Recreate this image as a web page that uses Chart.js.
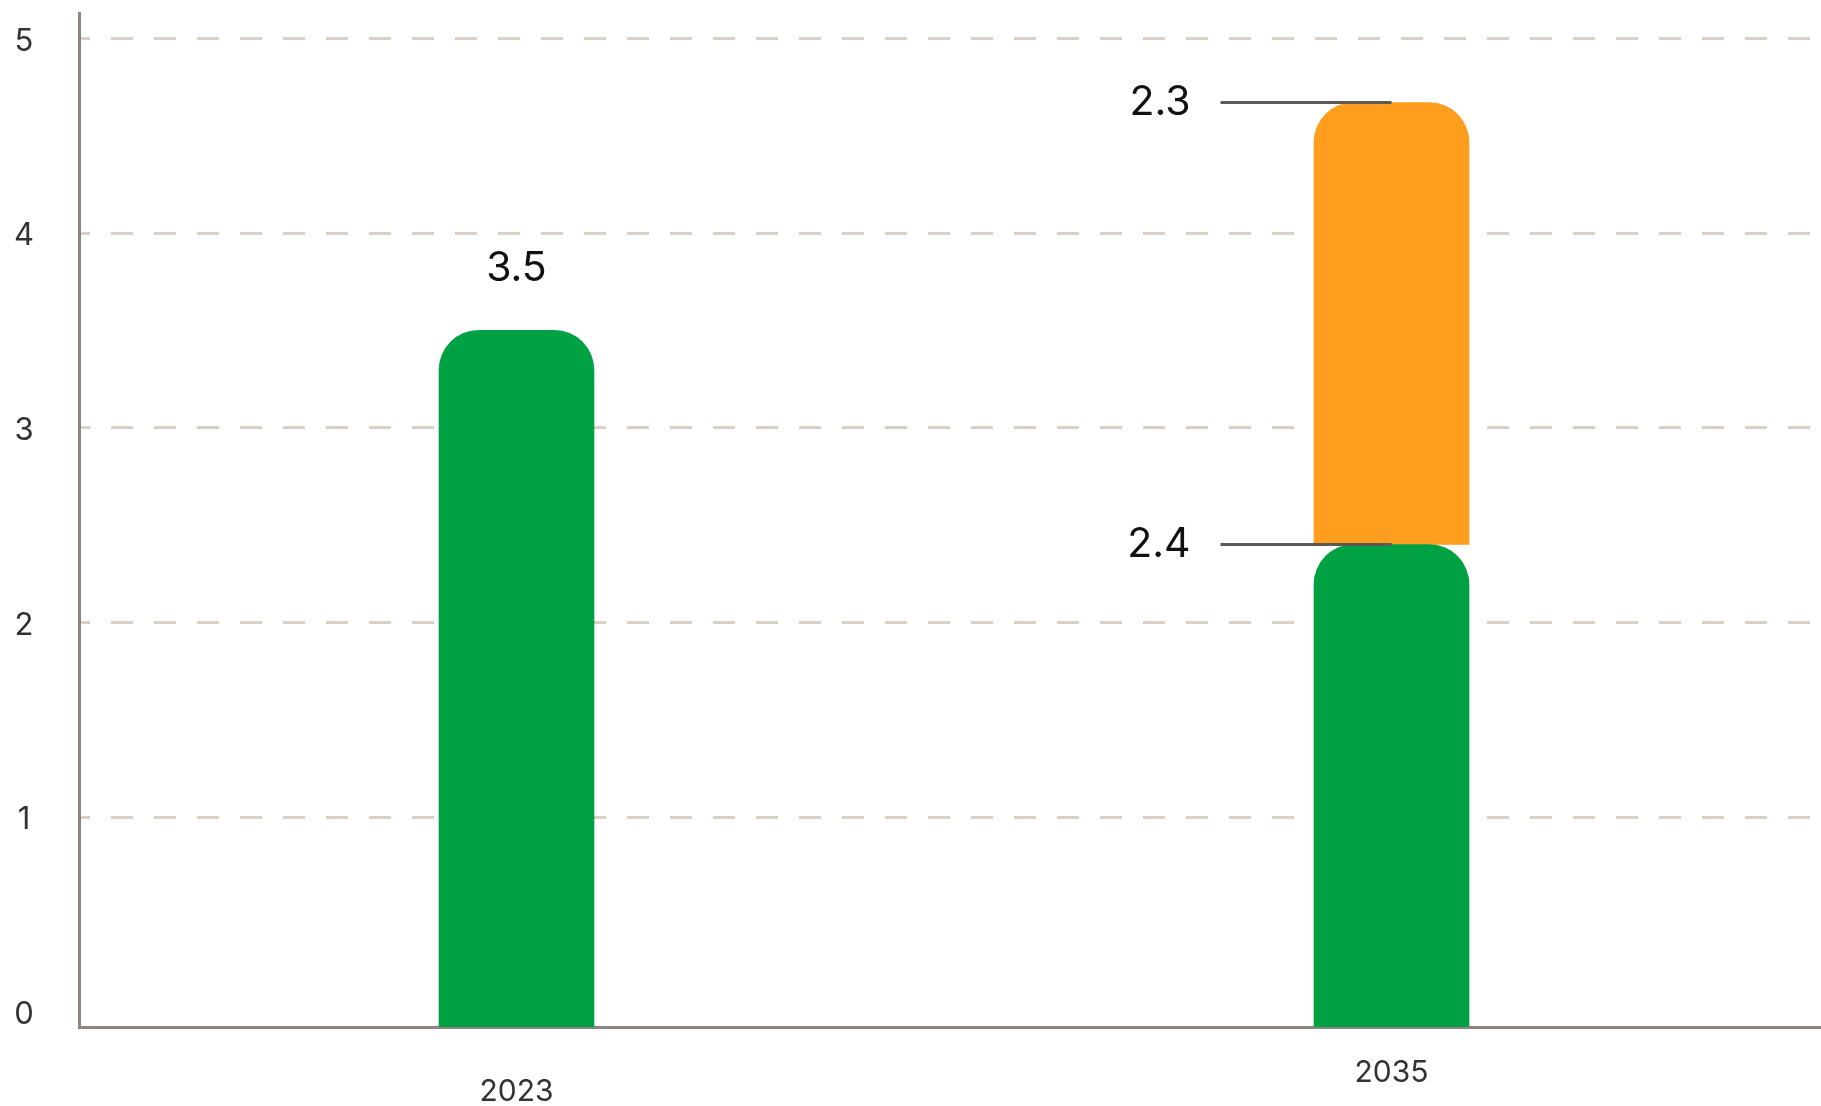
<!DOCTYPE html>
<html>
<head>
<meta charset="utf-8">
<script src="https://cdn.jsdelivr.net/npm/chart.js@4/dist/chart.umd.min.js"></script>
<style>
  html, body { margin: 0; padding: 0; background: #fff; overflow: hidden; }
  #wrap { width: 1829px; height: 1106px; }
</style>
</head>
<body>
<div id="wrap"><canvas id="myChart" width="1829" height="1106"></canvas></div>
<script>
const categories = ['2023', '2035'];
const greenValues = [3.5, 2.4];
const orangeValues = [null, 2.27];
const yTicks = [0, 1, 2, 3, 4, 5];

const FONT = 'Inter, "Noto Sans", sans-serif';

// value labels: above single bars, with leader lines for stacked ones
const valueLabels = {
    id: 'valueLabels',
    afterDatasetsDraw(chart) {
        const ctx = chart.ctx;
        ctx.save();
        ctx.font = '400 41px ' + FONT;
        ctx.fillStyle = '#111';
        ctx.textBaseline = 'middle';
        categories.forEach((cat, i) => {
            const parts = chart.data.datasets
                .map((ds, d) => ({ d: d, v: ds.data[i] }))
                .filter(p => p.v != null);
            if (parts.length === 1) {
                const bar = chart.getDatasetMeta(parts[0].d).data[i];
                ctx.textAlign = 'center';
                ctx.fillText(parts[0].v.toFixed(1), bar.x, bar.y - 62);
            } else {
                parts.forEach(p => {
                    const bar = chart.getDatasetMeta(p.d).data[i];
                    ctx.strokeStyle = '#5b5a55';
                    ctx.lineWidth = 3;
                    ctx.beginPath();
                    ctx.moveTo(bar.x - 171, bar.y);
                    ctx.lineTo(bar.x, bar.y);
                    ctx.stroke();
                    ctx.textAlign = 'right';
                    ctx.fillText(p.v.toFixed(1), bar.x - 201, bar.y);
                });
            }
        });
        ctx.restore();
    }
};

const radius = { topLeft: 40, topRight: 40, bottomLeft: 0, bottomRight: 0 };

new Chart(document.getElementById('myChart'), {
    type: 'bar',
    data: {
        labels: categories,
        datasets: [
            {
                data: greenValues,
                backgroundColor: '#00a142',
                borderRadius: radius,
                borderSkipped: false,
                base: -0.078,
                barThickness: 155
            },
            {
                data: orangeValues,
                backgroundColor: '#ff9d1e',
                borderRadius: radius,
                borderSkipped: false,
                barThickness: 155
            }
        ]
    },
    options: {
        responsive: false,
        animation: false,
        layout: { padding: { top: 13, left: 0, right: 0, bottom: 0 } },
        plugins: {
            legend: { display: false },
            tooltip: { enabled: false }
        },
        scales: {
            x: {
                stacked: true,
                z: 1,
                grid: { display: false, drawTicks: false },
                border: { display: true, color: '#8a8580', width: 3 },
                ticks: {
                    color: '#333',
                    padding: 28,
                    font: (c) => ({ family: FONT, size: 30, lineHeight: c.index === 0 ? 2.47 : 1.2 })
                },
                afterFit: (scale) => { scale.height = 79; }
            },
            y: {
                stacked: true,
                min: -0.078,
                max: 5.13,
                afterBuildTicks: (scale) => { scale.ticks = yTicks.map(v => ({ value: v })); },
                afterFit: (scale) => {
                    scale.width = 79;
                    scale.paddingTop = 0;
                    scale.paddingBottom = 0;
                },
                grid: {
                    drawTicks: false,
                    lineWidth: 3,
                    color: (c) => (c.tick && c.tick.value === 0) ? 'rgba(0,0,0,0)' : '#dad0c6'
                },
                border: { display: true, color: '#8a8580', width: 3, dash: [22, 21], dashOffset: 13 },
                ticks: {
                    color: '#333',
                    crossAlign: 'center',
                    padding: 45,
                    labelOffset: 3,
                    font: { family: FONT, size: 31 },
                    callback: (v) => String(v)
                }
            }
        }
    },
    plugins: [valueLabels]
});
</script>
</body>
</html>
